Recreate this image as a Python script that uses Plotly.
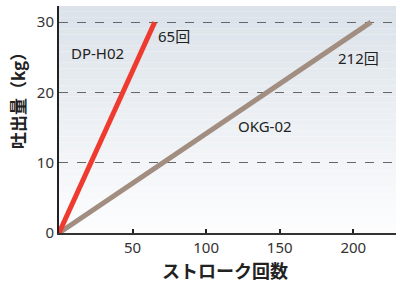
import plotly.graph_objects as go

strokes_dp = [0, 65]
amount_dp = [0, 30]
strokes_okg = [0, 212]
amount_okg = [0, 30]
x_ticks = [50, 100, 150, 200]
y_ticks = [0, 10, 20, 30]
labels = ["DP-H02", "65回", "OKG-02", "212回"]
x_title = "ストローク回数"
y_title = "吐出量（kg）"

FONT = "Noto Sans CJK JP"
LFONT = "Noto Sans, Noto Sans CJK JP"
fig = go.Figure()
fig.add_trace(go.Scatter(x=strokes_okg, y=amount_okg, mode="lines",
                         line=dict(color="#a28d81", width=5), showlegend=False))
fig.add_trace(go.Scatter(x=strokes_dp, y=amount_dp, mode="lines",
                         line=dict(color="#ee3a2f", width=5), showlegend=False))

# gradient background
n = 40
top = (219, 226, 233)
bot = (253, 253, 254)
shapes = []
for i in range(n):
    t = i / (n - 1)
    c = tuple(int(round(top[k] + (bot[k] - top[k]) * t)) for k in range(3))
    shapes.append(dict(type="rect", xref="x domain", yref="y domain",
                       x0=0, x1=1, y0=1 - (i + 1) / n, y1=1 - i / n,
                       fillcolor="rgb(%d,%d,%d)" % c, line=dict(width=0), layer="below"))
fig.update_layout(shapes=shapes)

ann = [
    (7.0, 25.6, labels[0]),
    (66.0, 28.1, labels[1]),
    (120.0, 15.2, labels[2]),
    (188.0, 24.9, labels[3]),
]
for x, y, s in ann:
    fig.add_annotation(x=x, y=y, text=s, showarrow=False, xanchor="left", yanchor="middle",
                       font=dict(family=LFONT, size=15, color="#222"))

fig.add_annotation(x=225, y=12, xref="paper", yref="paper", xanchor="center", yanchor="middle",
                   text="<b>%s</b>" % x_title, showarrow=False,
                   font=dict(family=FONT, size=18, color="#222"))
fig.add_annotation(x=17, y=185, xref="paper", yref="paper", xanchor="center", yanchor="middle",
                   text="<b>%s</b>" % y_title, showarrow=False, textangle=-90,
                   font=dict(family=FONT, size=17, color="#222"))

fig.update_layout(
    width=396, height=282,
    margin=dict(l=59, r=0, t=6, b=49, autoexpand=False),
    paper_bgcolor="white", plot_bgcolor="rgba(0,0,0,0)",
    font=dict(family=FONT, color="#222"),
)
# convert paper-pixel annotation positions to paper fractions
pw, ph = 396 - 59, 282 - 6 - 49
for a in fig.layout.annotations:
    if a.xref == "paper":
        a.x = (a.x - 59) / pw
        a.y = (a.y - 49) / ph

fig.update_xaxes(range=[0, 229], tickvals=x_ticks, ticks="inside", ticklen=4, tickwidth=1.5,
                 tickcolor="#222", showline=True, linecolor="#333", linewidth=2,
                 showgrid=False, zeroline=False, automargin=False,
                 tickfont=dict(family=LFONT, size=15, color="#333"))
fig.update_yaxes(range=[0, 32.3], tickvals=y_ticks, ticks="", showline=True, linecolor="#222",
                 linewidth=2, showgrid=True, gridcolor="#666", griddash="dash", gridwidth=1.2,
                 zeroline=False, automargin=False,
                 tickfont=dict(family=LFONT, size=15, color="#333"))
fig.write_html("out.html", config={"displayModeBar": False},
               post_script="document.body.style.margin='0';document.body.style.overflow='hidden';")
